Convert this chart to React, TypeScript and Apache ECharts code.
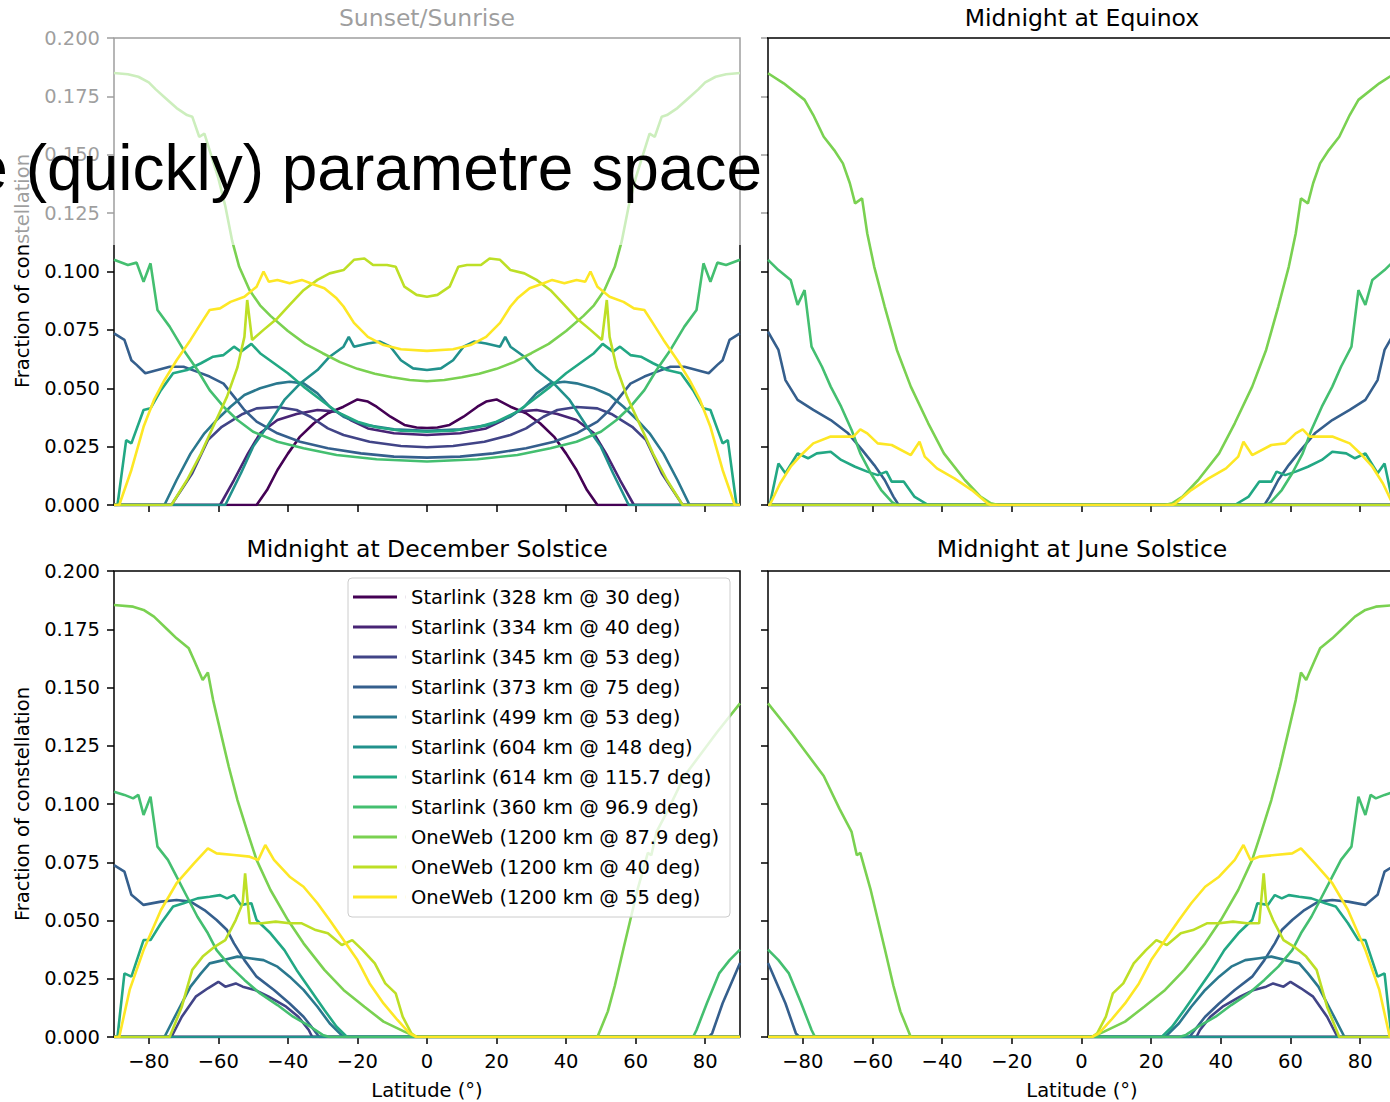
import React, { useEffect, useRef } from "react";
import * as echarts from "echarts";

type Pt = [number, number];

const SERIES_NAMES = [
  "Starlink (328 km @ 30 deg)",
  "Starlink (334 km @ 40 deg)",
  "Starlink (345 km @ 53 deg)",
  "Starlink (373 km @ 75 deg)",
  "Starlink (499 km @ 53 deg)",
  "Starlink (604 km @ 148 deg)",
  "Starlink (614 km @ 115.7 deg)",
  "Starlink (360 km @ 96.9 deg)",
  "OneWeb (1200 km @ 87.9 deg)",
  "OneWeb (1200 km @ 40 deg)",
  "OneWeb (1200 km @ 55 deg)",
];
const SERIES_COLORS = [
  "#440154", "#482475", "#414487", "#355f8d", "#2a788e", "#21918c",
  "#22a884", "#44bf70", "#7ad151", "#bddf26", "#fde725",
];
const PANEL_TITLES = [
  "Sunset/Sunrise",
  "Midnight at Equinox",
  "Midnight at December Solstice",
  "Midnight at June Solstice",
];
const LAT_TICKS = [-80, -60, -40, -20, 0, 20, 40, 60, 80];
const Y_AXIS_NAME = "Fraction of constellation";
const X_AXIS_NAME = "Latitude (°)";
const OVERLAY_TEXT = "e (quickly) parametre space";

// ---- Sunset/Sunrise: southern half (lat -90..0), the panel is symmetric
const SUNSET_HALF: Pt[][] = [
  [[-90, 0], [-49, 0], [-46, 0.0064], [-43, 0.015], [-40, 0.022], [-36.5, 0.0293], [-32.5, 0.035], [-28.5, 0.0393], [-24, 0.0421], [-20, 0.0452], [-17, 0.0443], [-14.5, 0.0421], [-10.5, 0.0378], [-6.5, 0.0343], [-3, 0.0332], [0, 0.033]],
  [[-90, 0], [-59.5, 0], [-55.5, 0.0107], [-51.5, 0.022], [-48, 0.0307], [-43, 0.0364], [-37.5, 0.039], [-31.5, 0.0407], [-26, 0.04], [-22, 0.0364], [-17, 0.0328], [-9.5, 0.0307], [0, 0.03]],
  [[-90, 0], [-73.5, 0], [-67.5, 0.0136], [-63, 0.0278], [-59, 0.0335], [-53, 0.039], [-49, 0.0414], [-43, 0.042], [-37.5, 0.0407], [-33.5, 0.0378], [-28.5, 0.0328], [-24, 0.03], [-16.5, 0.0271], [-7.5, 0.0253], [0, 0.0247]],
  [[-90, 0.0735], [-87, 0.0707], [-85, 0.062], [-83.5, 0.06], [-81, 0.0564], [-77.5, 0.0578], [-74, 0.0592], [-70, 0.0592], [-66, 0.057], [-62.5, 0.055], [-58.5, 0.052], [-55.5, 0.0464], [-52.5, 0.0407], [-49, 0.0357], [-43, 0.0307], [-36.5, 0.0271], [-28.5, 0.0243], [-19, 0.0221], [-9.5, 0.0207], [0, 0.0203]],
  [[-90, 0], [-75.5, 0], [-72, 0.0107], [-68, 0.022], [-64, 0.0307], [-60.5, 0.0364], [-56.5, 0.0421], [-52.5, 0.0471], [-48, 0.05], [-43, 0.0521], [-39.5, 0.0528], [-35.5, 0.0521], [-31.5, 0.0478], [-28, 0.0421], [-24, 0.0378], [-18, 0.0343], [-9.5, 0.0324], [0, 0.0318]],
  [[-90, 0], [-58, 0], [-53.5, 0.0136], [-50, 0.025], [-46, 0.0335], [-41, 0.045], [-36.5, 0.052], [-31.5, 0.0578], [-28, 0.0635], [-24, 0.0678], [-22.5, 0.072], [-21, 0.0678], [-17, 0.0692], [-13.5, 0.07], [-10.5, 0.0678], [-7.5, 0.062], [-4, 0.0585], [0, 0.0578]],
  [[-90, 0], [-89, 0], [-86.5, 0.0278], [-85, 0.0264], [-81.5, 0.0407], [-79.5, 0.0414], [-76.5, 0.0492], [-73, 0.0564], [-69, 0.0578], [-65, 0.0607], [-61.5, 0.0635], [-58.5, 0.0642], [-55.5, 0.0678], [-53.5, 0.0657], [-50.5, 0.069], [-48, 0.065], [-44, 0.0607], [-40, 0.0564], [-35.5, 0.0507], [-30.5, 0.045], [-26, 0.04], [-20, 0.0357], [-14.5, 0.0333], [-7.5, 0.0318], [0, 0.0314]],
  [[-90, 0.105], [-86, 0.1028], [-83.5, 0.1038], [-81.5, 0.0956], [-79.5, 0.1035], [-77.5, 0.0835], [-74, 0.0764], [-70, 0.0664], [-66, 0.0578], [-62.5, 0.0492], [-58.5, 0.0421], [-54.5, 0.0364], [-50, 0.0314], [-43, 0.0271], [-35.5, 0.0243], [-26, 0.0214], [-14.5, 0.0196], [0, 0.0186]],
  [[-90, 0.185], [-86, 0.1845], [-83, 0.1834], [-80, 0.181], [-78, 0.178], [-75, 0.174], [-72, 0.17], [-69, 0.167], [-67.5, 0.1663], [-65.5, 0.1577], [-64, 0.159], [-62, 0.1495], [-60, 0.14], [-58, 0.128], [-56, 0.113], [-54, 0.102], [-51, 0.092], [-48, 0.0855], [-45, 0.081], [-40, 0.0745], [-35, 0.069], [-30, 0.065], [-25, 0.0612], [-20, 0.0583], [-15, 0.0562], [-10, 0.0547], [-5, 0.0535], [0, 0.053]],
  [[-90, 0], [-73.5, 0], [-69, 0.0107], [-65, 0.022], [-61.5, 0.0335], [-57.5, 0.0464], [-54.5, 0.059], [-52.5, 0.072], [-51.7, 0.0878], [-50.3, 0.0707], [-47, 0.075], [-43, 0.08], [-39.5, 0.0857], [-35.5, 0.092], [-31.5, 0.0964], [-28, 0.0992], [-24, 0.1006], [-21, 0.105], [-18, 0.1056], [-15.5, 0.1028], [-11.5, 0.1028], [-9, 0.102], [-6.5, 0.0935], [-3, 0.09], [0, 0.0892]],
  [[-90, 0], [-88.5, 0], [-85, 0.015], [-81.5, 0.0335], [-78.5, 0.045], [-75.5, 0.0535], [-72, 0.062], [-68, 0.0707], [-65, 0.0778], [-62.5, 0.0835], [-59.5, 0.0842], [-56.5, 0.087], [-52.5, 0.0892], [-49, 0.0935], [-47, 0.1], [-45.5, 0.0956], [-43, 0.0964], [-39.5, 0.095], [-36, 0.0964], [-33.5, 0.095], [-29.5, 0.0928], [-26, 0.0885], [-24, 0.085], [-21, 0.078], [-17, 0.072], [-12.5, 0.0685], [-7.5, 0.0667], [0, 0.066]],
];

// ---- Midnight at Equinox: southern half (lat -90..0), symmetric
const EQUINOX_HALF: Pt[][] = [
  [[-90, 0], [0, 0]],
  [[-90, 0], [0, 0]],
  [[-90, 0], [0, 0]],
  [[-90, 0.0742], [-87, 0.0664], [-85, 0.0535], [-81.5, 0.045], [-77, 0.0407], [-72, 0.0364], [-67, 0.0307], [-63, 0.0236], [-59.5, 0.0171], [-56.5, 0.0107], [-54, 0.0036], [-52.5, 0], [0, 0]],
  [[-90, 0], [0, 0]],
  [[-90, 0], [0, 0]],
  [[-90, 0], [-89.5, 0], [-87, 0.0178], [-85, 0.0136], [-81.5, 0.0221], [-78.5, 0.02], [-76, 0.0221], [-72, 0.0228], [-69, 0.0193], [-65, 0.0164], [-61.5, 0.0143], [-58.5, 0.0128], [-56, 0.0143], [-54.5, 0.01], [-51, 0.01], [-48, 0.0036], [-44, 0], [0, 0]],
  [[-90, 0.105], [-87, 0.1006], [-83.5, 0.0964], [-81.5, 0.0857], [-79.5, 0.092], [-77.5, 0.0678], [-74.5, 0.0592], [-72, 0.0507], [-69, 0.0421], [-66, 0.0321], [-63.5, 0.0221], [-60.5, 0.0136], [-57.5, 0.0064], [-54.5, 0.0014], [-53, 0], [0, 0]],
  [[-90, 0.1849], [-85.5, 0.1806], [-79.5, 0.1735], [-77, 0.167], [-74, 0.1577], [-71, 0.152], [-68.5, 0.1463], [-66.5, 0.1378], [-65, 0.1292], [-63, 0.1313], [-61.5, 0.1163], [-59.5, 0.102], [-56.5, 0.085], [-53, 0.0664], [-49, 0.0507], [-44, 0.035], [-39.5, 0.0221], [-33.5, 0.0107], [-29, 0.0036], [-26, 0.0007], [-24, 0], [0, 0]],
  [[-90, 0], [0, 0]],
  [[-90, 0], [-89.5, 0], [-86.5, 0.0093], [-83.5, 0.0164], [-80.5, 0.0214], [-77, 0.0264], [-72, 0.0293], [-65.5, 0.0293], [-63.5, 0.0324], [-61.5, 0.0307], [-58.5, 0.0264], [-54.5, 0.0257], [-49, 0.0214], [-46.5, 0.0271], [-45, 0.0207], [-41.5, 0.0157], [-36.5, 0.0114], [-31.5, 0.0064], [-27, 0.0007], [-26, 0], [0, 0]],
];

// ---- Midnight at December Solstice: full range (June is its mirror image)
const DECEMBER: Pt[][] = [
  [[-90, 0], [90, 0]],
  [[-90, 0], [90, 0]],
  [[-90, 0], [-73.5, 0], [-70.5, 0.0087], [-66.5, 0.0173], [-63, 0.0209], [-60, 0.0237], [-58, 0.0216], [-55, 0.023], [-53, 0.0216], [-49.5, 0.0202], [-45.5, 0.0173], [-40.5, 0.013], [-37, 0.0087], [-34, 0.003], [-33, 0], [90, 0]],
  [[-90, 0.0738], [-87, 0.071], [-85, 0.061], [-81.5, 0.0567], [-76.5, 0.0581], [-72, 0.0588], [-68, 0.0581], [-64, 0.0545], [-60.5, 0.0502], [-57.5, 0.0459], [-55.5, 0.0402], [-52.5, 0.033], [-49, 0.0259], [-44, 0.0202], [-39.5, 0.0144], [-35.5, 0.0087], [-32.5, 0.003], [-31, 0], [81, 0], [82, 0.0016], [85, 0.0145], [90, 0.0318]],
  [[-90, 0], [-75.5, 0], [-72, 0.0102], [-68, 0.0216], [-65, 0.0273], [-62.5, 0.0316], [-58.5, 0.033], [-54.5, 0.0345], [-51, 0.0338], [-47, 0.033], [-43, 0.0302], [-39.5, 0.0259], [-35.5, 0.0202], [-31.5, 0.013], [-28, 0.0059], [-24, 0], [90, 0]],
  [[-90, 0], [90, 0]],
  [[-90, 0], [-89, 0], [-87, 0.0273], [-85, 0.0259], [-81.5, 0.0416], [-79.5, 0.0416], [-76.5, 0.0488], [-73, 0.056], [-70, 0.0574], [-66, 0.0595], [-62.5, 0.0602], [-59.5, 0.0609], [-57.5, 0.0595], [-55.5, 0.0609], [-53.5, 0.0567], [-50.5, 0.0574], [-49, 0.0502], [-45, 0.0445], [-41, 0.0373], [-37.5, 0.0288], [-33.5, 0.0202], [-29.5, 0.0116], [-26, 0.0044], [-23, 0], [90, 0]],
  [[-90, 0.1053], [-87, 0.1039], [-84.5, 0.1024], [-83, 0.1039], [-81.5, 0.0953], [-79.5, 0.1031], [-77.5, 0.0817], [-74.5, 0.076], [-72, 0.0688], [-69, 0.0602], [-66, 0.0516], [-63, 0.0445], [-60.5, 0.0373], [-56.5, 0.0302], [-52.5, 0.0245], [-48, 0.0187], [-43, 0.0137], [-38.5, 0.0087], [-33.5, 0.0044], [-30, 0.0009], [-28, 0], [76.5, 0], [77.5, 0.003], [80.5, 0.0146], [84, 0.0273], [87, 0.033], [90, 0.0375]],
  [[-90, 0.1854], [-84.5, 0.1847], [-81.5, 0.1833], [-78.5, 0.1804], [-74.5, 0.1747], [-72, 0.1711], [-68.5, 0.1668], [-67, 0.1618], [-64.5, 0.1532], [-63, 0.1564], [-61.5, 0.1446], [-59.5, 0.1318], [-57, 0.116], [-54.5, 0.1017], [-51.5, 0.0874], [-49, 0.076], [-45, 0.0631], [-40, 0.0502], [-35.5, 0.0402], [-29.5, 0.0288], [-24, 0.0202], [-18, 0.013], [-12.5, 0.0066], [-6.5, 0.0023], [-3, 0], [49, 0], [52, 0.011], [54, 0.022], [56.5, 0.038], [60.5, 0.063], [63.5, 0.079], [64.5, 0.078], [66, 0.088], [69.5, 0.098], [74, 0.112], [79, 0.122], [83.5, 0.131], [90, 0.1432]],
  [[-90, 0], [-74, 0], [-70.5, 0.013], [-67.5, 0.0288], [-64.5, 0.0345], [-61, 0.0388], [-58, 0.0416], [-55, 0.0502], [-53, 0.0574], [-52.3, 0.0702], [-51, 0.0488], [-47.5, 0.0488], [-43.5, 0.0495], [-39.5, 0.0488], [-36, 0.0488], [-32, 0.0459], [-28.5, 0.0445], [-24.5, 0.0395], [-21.5, 0.0416], [-18.5, 0.0373], [-15, 0.0316], [-12, 0.023], [-9, 0.0187], [-7, 0.0087], [-4.5, 0.0016], [-3, 0], [90, 0]],
  [[-90, 0], [-88.5, 0], [-85.5, 0.0202], [-81.5, 0.0373], [-76.5, 0.0545], [-72, 0.066], [-67, 0.0745], [-63, 0.081], [-60.5, 0.0788], [-55.5, 0.0781], [-51, 0.0774], [-48.5, 0.076], [-46.5, 0.0824], [-44, 0.076], [-39.5, 0.0688], [-35.5, 0.0645], [-31.5, 0.0574], [-28, 0.0502], [-24, 0.0416], [-20, 0.033], [-16.5, 0.023], [-12.5, 0.0144], [-8.5, 0.0073], [-5, 0.0016], [-3, 0], [90, 0]],
];

const mirrorHalf = (half: Pt[]): Pt[] => {
  const right = half.filter((p) => p[0] < 0).map((p) => [-p[0], p[1]] as Pt).reverse();
  return [...half, ...right];
};
const flip = (pts: Pt[]): Pt[] => pts.map((p) => [-p[0], p[1]] as Pt).reverse();

const PANEL_DATA: Pt[][][] = [
  SUNSET_HALF.map(mirrorHalf),
  EQUINOX_HALF.map(mirrorHalf),
  DECEMBER,
  DECEMBER.map(flip),
];

const FONT = "DejaVu Sans";
const GRIDS = [
  { left: 114, top: 38, width: 626, height: 467 },
  { left: 768, top: 38, width: 627, height: 467 },
  { left: 114, top: 571, width: 626, height: 466 },
  { left: 768, top: 571, width: 627, height: 466 },
];

const minusFmt = (v: number) => (v < 0 ? "\u2212" + Math.abs(v) : String(v));

function buildOption() {
  const grid = GRIDS.map((g) => ({
    ...g,
    show: true,
    borderColor: "#000",
    borderWidth: 1.5,
    backgroundColor: "transparent",
  }));
  const xAxis = GRIDS.map((_, i) => ({
    type: "value",
    gridIndex: i,
    position: "bottom",
    min: -90,
    max: 90,
    splitLine: { show: false },
    axisLine: { show: false, onZero: false },
    axisTick: {
      show: true,
      inside: false,
      length: 7,
      customValues: LAT_TICKS,
      lineStyle: { color: "#000", width: 1.5 },
    },
    axisLabel: {
      show: i >= 2,
      customValues: LAT_TICKS,
      formatter: minusFmt,
      margin: 14,
      fontSize: 19.5,
      fontFamily: FONT,
      color: "#000",
    },
  }));
  const yAxis = GRIDS.map((_, i) => ({
    type: "value",
    gridIndex: i,
    position: "left",
    min: 0,
    max: 0.2,
    interval: 0.025,
    splitLine: { show: false },
    axisLine: { show: false, onZero: false },
    axisTick: {
      show: true,
      inside: false,
      length: 7,
      lineStyle: { color: "#000", width: 1.5 },
    },
    axisLabel: {
      show: i % 2 === 0,
      formatter: (v: number) => v.toFixed(3),
      margin: 14,
      fontSize: 19.5,
      fontFamily: FONT,
      color: "#000",
    },
  }));

  const series: any[] = [];
  PANEL_DATA.forEach((panel, p) => {
    panel.forEach((pts, s) => {
      series.push({
        type: "line",
        name: SERIES_NAMES[s],
        xAxisIndex: p,
        yAxisIndex: p,
        data: pts,
        symbol: "none",
        showSymbol: false,
        silent: true,
        clip: true,
        lineStyle: { color: SERIES_COLORS[s], width: 2.6 },
        itemStyle: { color: SERIES_COLORS[s] },
      });
    });
  });

  const titleText = (text: string, x: number, y: number) => ({
    type: "text",
    x,
    y,
    z: 1,
    style: {
      text,
      fill: "#000",
      fontSize: 23.5,
      fontFamily: FONT,
      align: "center",
      verticalAlign: "middle",
      textAlign: "center",
      textVerticalAlign: "middle",
    },
  });
  const axisName = (text: string, x: number, y: number, rot: number) => ({
    type: "text",
    x,
    y,
    rotation: rot,
    z: 1,
    style: {
      text,
      fill: "#000",
      fontSize: 19.5,
      fontFamily: FONT,
      align: "center",
      verticalAlign: "middle",
      textAlign: "center",
      textVerticalAlign: "middle",
    },
  });

  const graphic = [
    titleText(PANEL_TITLES[0], 427, 18),
    titleText(PANEL_TITLES[1], 1082, 18),
    titleText(PANEL_TITLES[2], 427, 549),
    titleText(PANEL_TITLES[3], 1082, 549),
    axisName(Y_AXIS_NAME, 22, 271, Math.PI / 2),
    axisName(Y_AXIS_NAME, 22, 804, Math.PI / 2),
    axisName(X_AXIS_NAME, 427, 1090, 0),
    axisName(X_AXIS_NAME, 1082, 1090, 0),
    {
      type: "rect",
      z: 100,
      shape: { x: 0, y: 0, width: 767, height: 245 },
      style: { fill: "rgba(255,255,255,0.62)" },
    },
    {
      type: "text",
      x: 762,
      y: 168,
      z: 101,
      style: {
        text: OVERLAY_TEXT,
        fill: "#000",
        fontSize: 64,
        fontFamily: "Liberation Sans",
        align: "right",
        verticalAlign: "middle",
        textAlign: "right",
        textVerticalAlign: "middle",
      },
    },
  ];

  return {
    animation: false,
    backgroundColor: "#fff",
    grid,
    xAxis,
    yAxis,
    series,
    graphic,
    legend: {
      show: true,
      selectedMode: false,
      orient: "vertical",
      left: 348,
      top: 578,
      data: SERIES_NAMES,
      icon: "path://M0,0H44V3H0ZM52.9,0H53V3H52.9Z",
      itemWidth: 53,
      itemHeight: 3,
      itemGap: 10,
      padding: [9, 11, 10, 5],
      backgroundColor: "rgba(255,255,255,0.8)",
      borderColor: "#cccccc",
      borderWidth: 1,
      borderRadius: 4,
      textStyle: {
        fontSize: 19.5,
        fontFamily: FONT,
        color: "#000",
        lineHeight: 20,
      },
    },
  };
}

export default function App() {
  const ref = useRef<HTMLDivElement>(null);
  useEffect(() => {
    if (!ref.current) return;
    const chart = echarts.init(ref.current, null, { renderer: "svg" });
    chart.setOption(buildOption() as any);
    return () => chart.dispose();
  }, []);
  return (
    <div
      style={{
        position: "absolute",
        left: 0,
        top: 0,
        width: 1390,
        height: 1102,
        overflow: "hidden",
        background: "#fff",
      }}
    >
      <div ref={ref} style={{ width: 1400, height: 1102 }} />
    </div>
  );
}
